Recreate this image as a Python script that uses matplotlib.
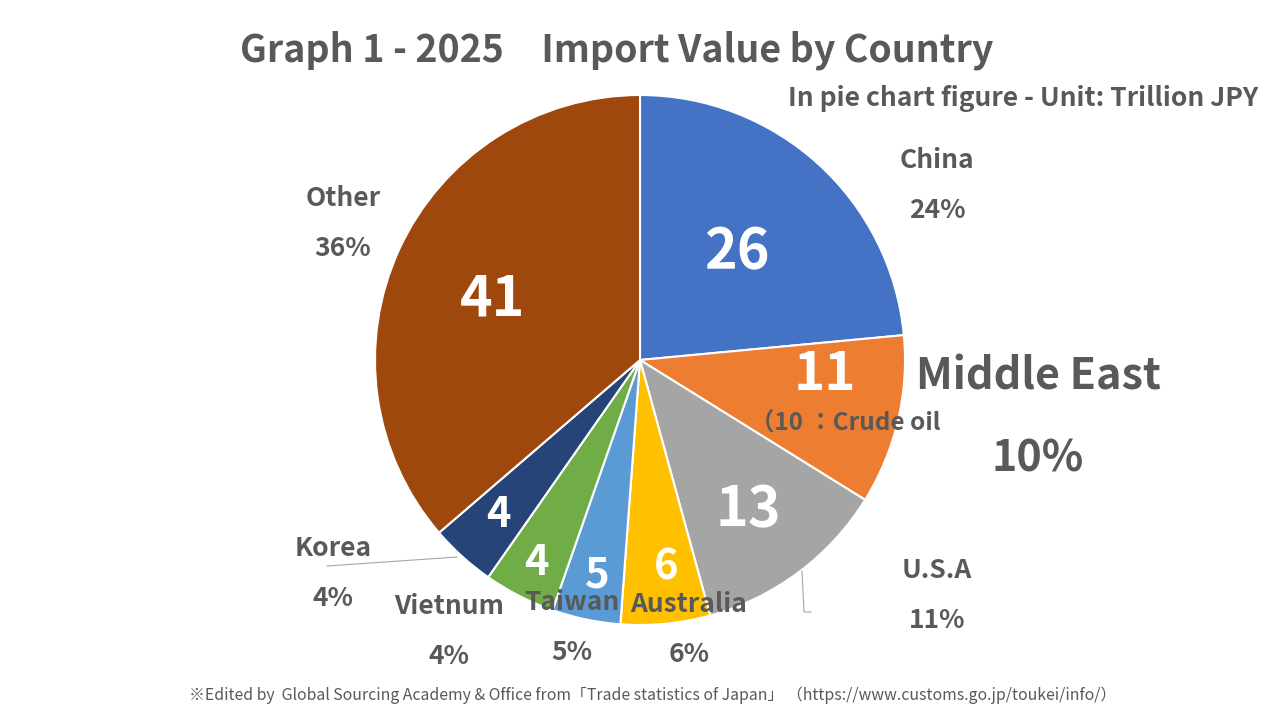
import matplotlib.pyplot as plt

plt.rcParams['font.family'] = ['Noto Sans CJK JP', 'DejaVu Sans']

# import values by country, trillion JPY (slices)
countries = ['China', 'Middle East', 'U.S.A', 'Australia', 'Taiwan', 'Vietnum', 'Korea', 'Other']
values = [25.9, 11.4, 13.1, 6.0, 4.6, 4.8, 4.4, 40.0]
value_labels = ['26', '11', '13', '6', '5', '4', '4', '41']
pct_labels = ['24%', '10%', '11%', '6%', '5%', '4%', '4%', '36%']
colors = ['#4472C4', '#ED7D31', '#A5A5A5', '#FFC000', '#5B9BD5', '#70AD47', '#264478', '#9E480E']

W, H = 1280, 720
GREY = '#595959'


def Y(y):
    # image-style y (top down) -> axes y
    return H - y


fig = plt.figure(figsize=(12.8, 7.2), dpi=100)
ax = fig.add_axes([0, 0, 1, 1])
ax.pie(values, colors=colors, startangle=90, counterclock=False,
       center=(640, 360), radius=265,
       wedgeprops=dict(edgecolor='white', linewidth=1.5))
ax.set_xlim(0, W)
ax.set_ylim(0, H)
ax.set_aspect('equal')
ax.axis('off')

# values inside the slices
inner_pos = [(737, 252), (825, 375), (748, 510), (666, 568),
             (597, 575), (536, 563), (498, 515), (493, 300)]
inner_size = [40, 38, 40, 30, 30, 30, 30, 40]
for lab, (x, y), fs in zip(value_labels, inner_pos, inner_size):
    ax.text(x, Y(y), lab, color='white', fontsize=fs, fontweight='bold',
            ha='center', va='center')

# country names + shares around the pie
outer_pos = {'China': (937, 160), 'U.S.A': (937, 570), 'Australia': (689, 605),
             'Taiwan': (572, 603), 'Vietnum': (449, 607), 'Korea': (333, 549),
             'Other': (343, 198)}
for name, pct in zip(countries, pct_labels):
    if name not in outer_pos:
        continue
    x, y = outer_pos[name]
    ax.text(x, Y(y), name, color=GREY, fontsize=19, fontweight='bold',
            ha='center', va='center', zorder=5)
    ax.text(x, Y(y + 50), pct, color=GREY, fontsize=19, fontweight='bold',
            ha='center', va='center', zorder=5)

# Middle East gets the big label
ax.text(1038, Y(377), 'Middle East', color=GREY, fontsize=31, fontweight='bold',
        ha='center', va='center')
ax.text(1038, Y(458), pct_labels[1], color=GREY, fontsize=31, fontweight='bold',
        ha='center', va='center')
ax.text(845, Y(424), '（10 ：Crude oil', color=GREY, fontsize=17.5, fontweight='bold',
        ha='center', va='center', zorder=5)

# leader lines
ax.plot([457, 327], [Y(557), Y(566)], color='#A6A6A6', lw=0.8)
ax.plot([802, 804, 811], [Y(571), Y(612), Y(612)], color='#A6A6A6', lw=0.8)

# titles and source
ax.text(617, Y(50), 'Graph 1 - 2025\u3000Import Value by Country', color=GREY,
        fontsize=27, fontweight='bold', ha='center', va='center')
ax.text(1258, Y(98), 'In pie chart figure - Unit: Trillion JPY', color=GREY,
        fontsize=19, fontweight='bold', ha='right', va='center')
ax.text(653, Y(695),
        '※Edited by  Global Sourcing Academy & Office from「Trade statistics of Japan」 （https://www.customs.go.jp/toukei/info/）',
        color=GREY, fontsize=11.4, ha='center', va='center')

fig.savefig('out.png', dpi=100, facecolor='white')
